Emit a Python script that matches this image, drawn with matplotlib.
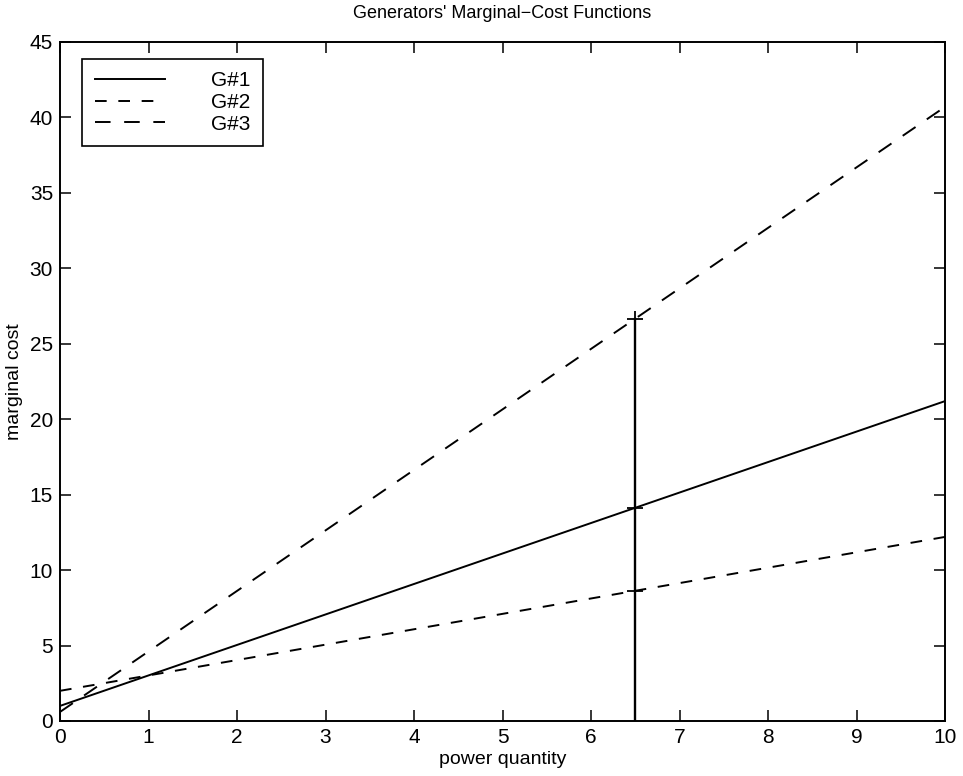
import numpy as np
import matplotlib.pyplot as plt

plt.rcParams['font.family'] = ['Liberation Sans', 'DejaVu Sans']

# generator lines: value at q=0 and q=10
gen_names = ['G#1', 'G#2', 'G#3']
q_ends = [0, 10]
mc_g1 = [1.0, 21.2]
mc_g2 = [2.0, 12.2]
mc_g3 = [0.6, 40.7]

# operating point
q_op = 6.5
mc_op = [14.13, 8.63, 26.67]

x_ticks = list(range(0, 11))
y_ticks = list(range(0, 46, 5))

fig = plt.figure(figsize=(9.63, 7.76), dpi=100)
ax = fig.add_axes([60 / 963, 55 / 776, 885 / 963, 679 / 776])

styles = ['-', (0, (6, 6)), (0, (8, 7))]
for name, ys, ls in zip(gen_names, [mc_g1, mc_g2, mc_g3], styles):
    ax.plot(q_ends, ys, color='black', linestyle=ls, linewidth=1.4, label=name)

ax.plot([q_op, q_op], [0, max(mc_op)], color='black', linewidth=1.7)
ax.plot([q_op] * len(mc_op), mc_op, linestyle='none', marker='+',
        color='black', markersize=11, markeredgewidth=1.3)

ax.set_xlim(0, 10)
ax.set_ylim(0, 45)
ax.set_xticks(x_ticks)
ax.set_yticks(y_ticks)
ax.tick_params(direction='in', length=8, width=1.1, top=True, right=True,
               labelsize=15, pad=5)
for s in ax.spines.values():
    s.set_linewidth(1.4)

ax.set_title("Generators' Marginal\u2212Cost Functions", fontsize=13, pad=17)
ax.set_xlabel('power quantity', fontsize=14, labelpad=3)
ax.set_ylabel('marginal cost', fontsize=14, labelpad=5)

leg = ax.legend(loc='upper left', fontsize=15, handlelength=3.4,
                fancybox=False, edgecolor='black', framealpha=1,
                bbox_to_anchor=(22 / 885, 1 - 17 / 679),
                borderaxespad=0, handletextpad=2.2, labelspacing=0.12,
                borderpad=0.6)
leg.get_frame().set_linewidth(1.2)

fig.savefig('out.png', dpi=100)
